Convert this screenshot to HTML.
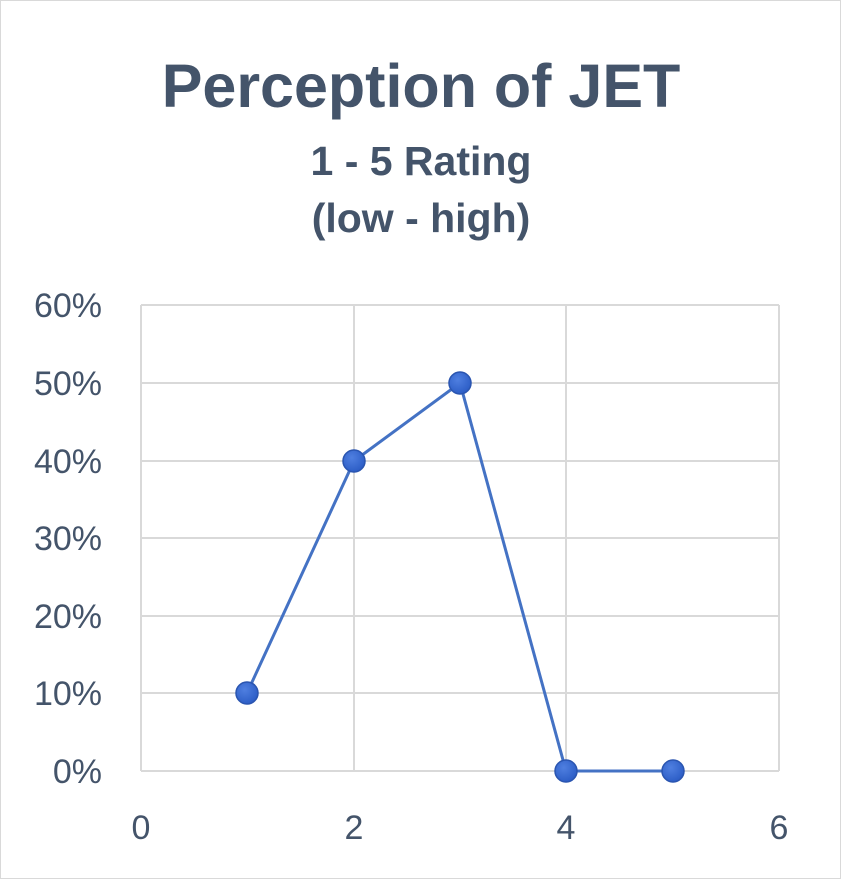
<!DOCTYPE html>
<html><head><style>
html,body{margin:0;padding:0;background:#fff;}
svg{display:block;}
</style></head><body>
<svg width="841" height="879" xmlns="http://www.w3.org/2000/svg">
<defs>
<radialGradient id="g" cx="40%" cy="35%" r="70%">
<stop offset="0" stop-color="#4f7fe0"/><stop offset="1" stop-color="#2a5bc4"/>
</radialGradient>
</defs>
<rect x="0.5" y="0.5" width="840" height="878" fill="#fff" stroke="#d9d9d9"/>
<g font-family="Liberation Sans, sans-serif" fill="#44546a" text-anchor="middle" font-weight="bold">
<text x="421" y="107" font-size="61">Perception of JET</text>
<text x="421" y="175" font-size="41">1 - 5 Rating</text>
<text x="421" y="232" font-size="41">(low - high)</text>
</g>
<g stroke="#d9d9d9" stroke-width="2">
<line x1="141" y1="305" x2="779" y2="305"/>
<line x1="141" y1="383" x2="779" y2="383"/>
<line x1="141" y1="461" x2="779" y2="461"/>
<line x1="141" y1="538" x2="779" y2="538"/>
<line x1="141" y1="616" x2="779" y2="616"/>
<line x1="141" y1="693" x2="779" y2="693"/>
<line x1="141" y1="771" x2="779" y2="771"/>
<line x1="141" y1="305" x2="141" y2="771"/>
<line x1="354" y1="305" x2="354" y2="771"/>
<line x1="566" y1="305" x2="566" y2="771"/>
<line x1="779" y1="305" x2="779" y2="771"/>
</g>
<g font-family="Liberation Sans, sans-serif" fill="#44546a" font-size="34" text-anchor="end">
<text x="102" y="317">60%</text>
<text x="102" y="395">50%</text>
<text x="102" y="473">40%</text>
<text x="102" y="550">30%</text>
<text x="102" y="628">20%</text>
<text x="102" y="705">10%</text>
<text x="102" y="783">0%</text>
</g>
<g font-family="Liberation Sans, sans-serif" fill="#44546a" font-size="34" text-anchor="middle">
<text x="141" y="839">0</text>
<text x="354" y="839">2</text>
<text x="566" y="839">4</text>
<text x="779" y="839">6</text>
</g>
<polyline points="247,693 354,461 460,383 566,771 673,771" fill="none" stroke="#4472c4" stroke-width="3"/>
<g fill="url(#g)" stroke="#2a55b0" stroke-width="1.5">
<circle cx="247" cy="693" r="11"/>
<circle cx="354" cy="461" r="11"/>
<circle cx="460" cy="383" r="11"/>
<circle cx="566" cy="771" r="11"/>
<circle cx="673" cy="771" r="11"/>
</g>
</svg>
</body></html>
